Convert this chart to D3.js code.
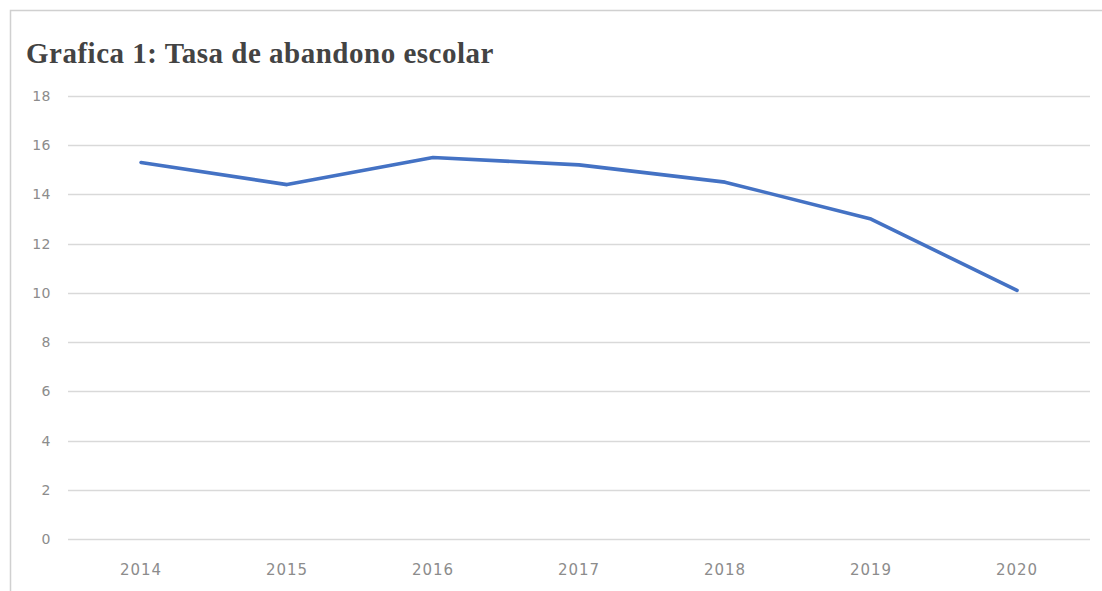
<!DOCTYPE html>
<html>
<head>
<meta charset="utf-8">
<script src="https://cdn.jsdelivr.net/npm/d3@7"></script>
<style>
  html, body { margin: 0; padding: 0; background: #fff; }
  svg { display: block; }
</style>
</head>
<body>
<svg id="chart" width="1102" height="591"></svg>
<script>
// Tasa de abandono escolar por año (%)
const years = ["2014", "2015", "2016", "2017", "2018", "2019", "2020"];
const tasa = [15.3, 14.4, 15.5, 15.2, 14.5, 13.0, 10.1];
const yTicks = [0, 2, 4, 6, 8, 10, 12, 14, 16, 18];
const titleText = "Grafica 1: Tasa de abandono escolar";

const svg = d3.select("#chart");
const W = 1102, H = 591;
const plot = { left: 68, right: 1090, top: 96, bottom: 539 };

// chart area frame
svg.append("rect")
  .attr("x", 10.5).attr("y", 10.5)
  .attr("width", W + 20).attr("height", H + 20)
  .attr("fill", "#fff")
  .attr("stroke", "#d0d0d0")
  .attr("stroke-width", 1.5);

svg.append("text")
  .attr("x", 26).attr("y", 63)
  .attr("font-family", "'Liberation Serif', 'DejaVu Serif', serif")
  .attr("font-weight", "bold")
  .attr("font-size", 29)
  .attr("letter-spacing", 0.5)
  .attr("fill", "#434343")
  .text(titleText);

const x = d3.scaleBand().domain(years).range([plot.left, plot.right]);
const y = d3.scaleLinear().domain([0, 18]).range([plot.bottom, plot.top]);

// horizontal gridlines
svg.append("g")
  .selectAll("line")
  .data(yTicks)
  .join("line")
  .attr("x1", plot.left).attr("x2", plot.right)
  .attr("y1", d => Math.round(y(d)) + 0.5)
  .attr("y2", d => Math.round(y(d)) + 0.5)
  .attr("stroke", "#d9d9d9")
  .attr("stroke-width", 1.3);

const labelFont = "'DejaVu Sans', 'Liberation Sans', sans-serif";

// y axis labels
const yAxis = d3.axisLeft(y).tickValues(yTicks).tickSize(0).tickPadding(0);
svg.append("g")
  .attr("transform", `translate(${plot.left - 17},0)`)
  .call(yAxis)
  .call(g => g.select(".domain").remove())
  .call(g => g.selectAll("text")
    .attr("font-family", labelFont)
    .attr("font-size", 14)
    .attr("letter-spacing", 0.5)
    .attr("fill", "#8c8c8c"));

// x axis labels
const xAxis = d3.axisBottom(x).tickSize(0).tickPadding(0);
svg.append("g")
  .attr("transform", `translate(0,${plot.bottom + 25})`)
  .call(xAxis)
  .call(g => g.select(".domain").remove())
  .call(g => g.selectAll("text")
    .attr("font-family", labelFont)
    .attr("font-size", 15)
    .attr("letter-spacing", 1)
    .attr("fill", "#8c8c8c"));

// data line
const line = d3.line()
  .x((d, i) => x(years[i]) + x.bandwidth() / 2)
  .y(d => y(d));

svg.append("path")
  .datum(tasa)
  .attr("d", line)
  .attr("fill", "none")
  .attr("stroke", "#4472c4")
  .attr("stroke-width", 3.6)
  .attr("stroke-linejoin", "round")
  .attr("stroke-linecap", "round");
</script>
</body>
</html>
